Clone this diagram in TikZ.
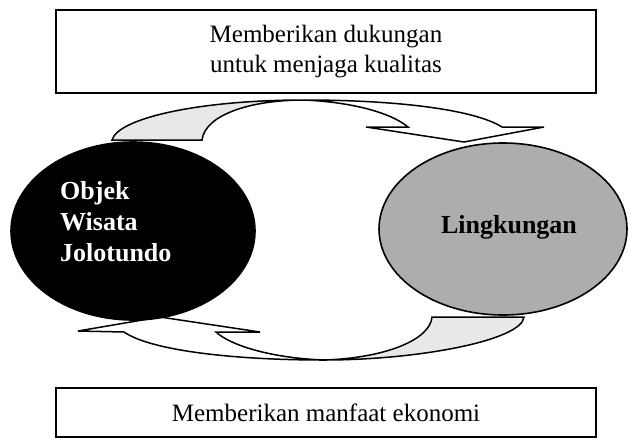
\documentclass[tikz,border=0pt]{standalone}
\usepackage{fontspec}
\setmainfont{Liberation Serif}
\usetikzlibrary{shapes.geometric}
\tikzstyle{textbox} = [rectangle, draw, line width=1.6pt, align=center,
inner sep=0pt, font=\fontsize{25}{30}\selectfont]
\tikzstyle{bigoval} = [ellipse, draw, line width=1.6pt, inner sep=0pt]
\tikzstyle{ovaltext} = [align=left, inner sep=0pt,
font=\fontsize{26}{31}\selectfont\bfseries]
\tikzstyle{band} = [draw, line width=1.5pt, line join=miter]
\tikzstyle{tailshade} = [fill=black!9]

\begin{document}
\begin{tikzpicture}[x=1pt, y=-1pt]
\useasboundingbox (0,0) rectangle (628,445);

% Curved arrows (behind the ovals)
\fill [tailshade] (112,140) .. controls (118,118) and (200,100) .. (304,100)
  .. controls (250,100) and (205,115) .. (202,140) -- cycle;
\path [band] (112,140) .. controls (118,118) and (200,100) .. (304,100)
  .. controls (400,100) and (475,110) .. (502,127)
  -- (544,127) -- (464,142) -- (366,127) -- (408,127)
  .. controls (390,112) and (350,102) .. (304,100)
  .. controls (250,100) and (205,115) .. (202,140) -- cycle;
\fill [tailshade] (524,317) .. controls (522,340) and (420,360) .. (324,360)
  .. controls (385,358) and (430,340) .. (432,317) -- cycle;
\path [band] (524,317) .. controls (522,340) and (420,360) .. (324,360)
  .. controls (230,360) and (150,350) .. (124,332)
  -- (78,331) -- (160,317) -- (260,332) -- (216,332)
  .. controls (230,345) and (270,358) .. (324,360)
  .. controls (385,358) and (430,340) .. (432,317) -- cycle;

% Place nodes
\node [textbox, minimum width=540pt, minimum height=83pt] (support) at (326,51.5)
  {Memberikan dukungan\\untuk menjaga kualitas};
\node [textbox, minimum width=540pt, minimum height=49pt] (benefit) at (326,412.5)
  {Memberikan manfaat ekonomi};
\node [bigoval, fill=black, minimum width=244pt, minimum height=178pt] (obj) at (133,231) {};
\node [bigoval, fill=black!32, minimum width=248pt, minimum height=172pt] (env) at (503,229) {};
\node [ovaltext, text=white, anchor=west] (objname) at (60,222) {Objek\\Wisata\\Jolotundo};
\node [ovaltext, text=black] (envname) at (509,227) {Lingkungan};
\end{tikzpicture}
\end{document}
